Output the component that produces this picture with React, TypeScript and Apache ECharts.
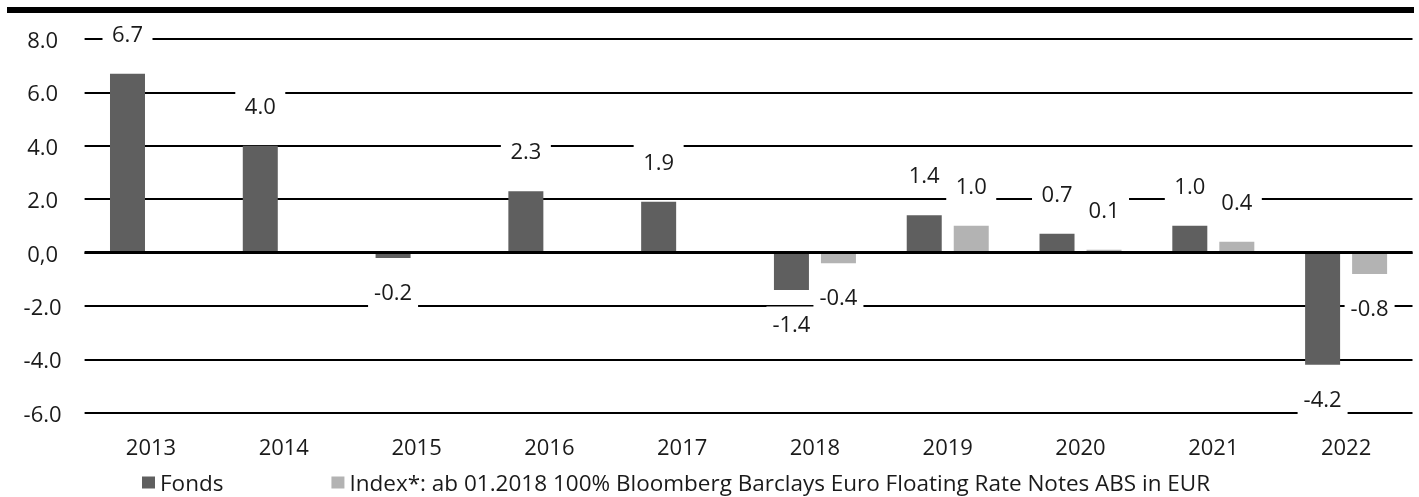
import React, { useEffect, useRef } from "react";
import * as echarts from "echarts";

const categories = ["2013", "2014", "2015", "2016", "2017", "2018", "2019", "2020", "2021", "2022"];
const fondsValues = [6.7, 4.0, -0.2, 2.3, 1.9, -1.4, 1.4, 0.7, 1.0, -4.2];
const indexValues: (number | null)[] = [null, null, null, null, null, -0.4, 1.0, 0.1, 0.4, -0.8];
const seriesNames = ["Fonds", "Index*: ab 01.2018 100% Bloomberg Barclays Euro Floating Rate Notes ABS in EUR"];

const FONT = "'Open Sans', 'Noto Sans', sans-serif";
const TXT = "#1a1a1a";
const FS = 22;

function toData(vals: (number | null)[]) {
  return vals.map((v) => {
    if (v == null) return null;
    if (v < 0) return { value: v, label: { position: "bottom", distance: 16.5 } };
    return { value: v };
  });
}

export default function App() {
  const ref = useRef<HTMLDivElement>(null);
  useEffect(() => {
    if (!ref.current) return;
    const chart = echarts.init(ref.current, undefined, { renderer: "svg" });
    const labelStyle = {
      show: true,
      position: "top",
      distance: 24.5,
      formatter: (p: any) => Number(p.value).toFixed(1),
      fontFamily: FONT,
      fontSize: FS,
      color: TXT,
      backgroundColor: "#ffffff",
      width: 50,
      align: "center",
      padding: [5, 0],
      lineHeight: 23,
    };
    chart.setOption({
      animation: false,
      textStyle: { fontFamily: FONT },
      grid: { left: 84.6, right: 6.5, top: 39, bottom: 84.3, containLabel: false },
      graphic: [
        { type: "rect", shape: { x: 7, y: 7, width: 1407, height: 6 }, style: { fill: "#000" }, silent: true },
      ],
      legend: {
        left: 142,
        top: 471,
        padding: 0,
        itemWidth: 13,
        itemHeight: 12,
        itemGap: 108,
        icon: "rect",
        textStyle: { fontFamily: FONT, fontSize: 22.5, lineHeight: 22, color: TXT },
        data: seriesNames,
      },
      xAxis: {
        type: "category",
        data: categories,
        axisLine: { show: false, onZero: false },
        axisTick: { show: false },
        axisLabel: { margin: 22, fontFamily: FONT, fontSize: FS, color: TXT },
      },
      yAxis: {
        type: "value",
        min: -6,
        max: 8,
        interval: 2,
        axisLine: { show: false },
        axisTick: { show: false },
        axisLabel: {
          fontFamily: FONT,
          fontSize: FS,
          color: TXT,
          align: "center",
          margin: 42,
          formatter: (v: number) => (v === 0 ? "0,0" : v.toFixed(1)),
        },
        splitLine: { show: true, lineStyle: { color: "#000", width: 2 } },
      },
      series: [
        {
          name: seriesNames[0],
          type: "bar",
          data: toData(fondsValues),
          barWidth: 35,
          barGap: "34.3%",
          itemStyle: { color: "#5f5f5f" },
          label: labelStyle,
          markLine: {
            silent: true,
            symbol: "none",
            label: { show: false },
            lineStyle: { color: "#000", width: 3, type: "solid" },
            data: [{ yAxis: 0 }],
          },
        },
        {
          name: seriesNames[1],
          type: "bar",
          data: toData(indexValues),
          barWidth: 35,
          barGap: "34.3%",
          itemStyle: { color: "#b3b3b3" },
          label: labelStyle,
        },
      ],
    });
    return () => chart.dispose();
  }, []);
  return <div ref={ref} style={{ position: "fixed", left: 0, top: 0, width: 1419, height: 497 }} />;
}
